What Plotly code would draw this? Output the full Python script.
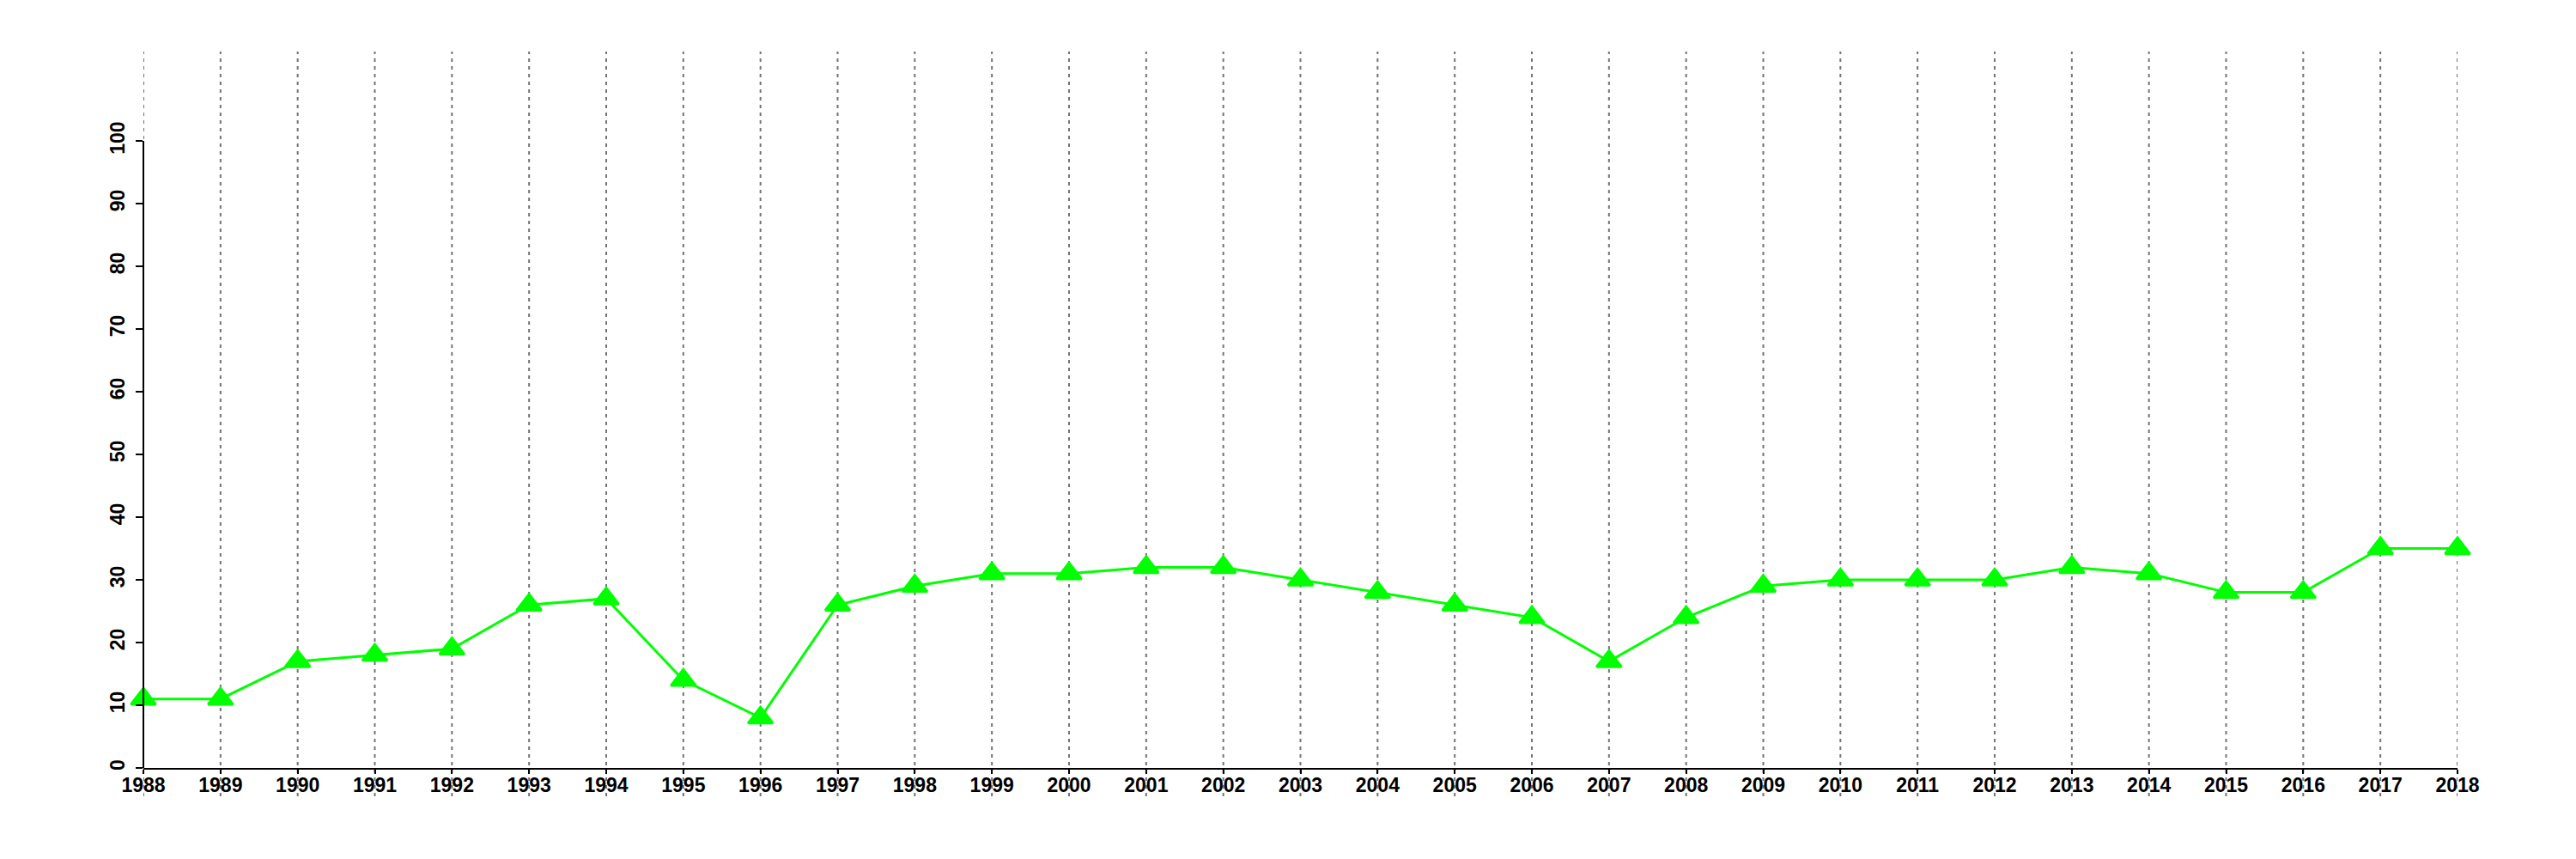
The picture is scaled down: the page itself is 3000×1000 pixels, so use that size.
import plotly.graph_objects as go

years = list(range(1988, 2019))
values = [11, 11, 17, 18, 19, 26, 27, 14, 8, 26, 29, 31, 31, 32, 32, 30, 28, 26, 24, 17,
          24, 29, 30, 30, 30, 32, 31, 28, 28, 35, 35]
y_ticks = [0, 10, 20, 30, 40, 50, 60, 70, 80, 90, 100]

fig = go.Figure()
fig.add_trace(go.Scatter(
    x=years, y=values, mode="lines+markers",
    line=dict(color="#00FF00", width=3),
    marker=dict(symbol="triangle-up", size=25, color="#00FF00",
                line=dict(color="#00FF00", width=3)),
    cliponaxis=False, showlegend=False,
))

shapes = []
# dotted vertical gridlines, running from the top of the plot to below the x labels
for yr in years:
    shapes.append(dict(type="line", xref="x", yref="paper", x0=yr, x1=yr, y0=-0.0396, y1=1,
                       line=dict(color="#737373", width=2, dash="4px,5px"), layer="below"))
# y axis line only spanning 0..100
shapes.append(dict(type="line", xref="paper", yref="y", x0=0, x1=0, y0=y_ticks[0], y1=y_ticks[-1],
                   line=dict(color="black", width=2)))

font = dict(family="Liberation Sans", size=23, color="black", weight="bold")

fig.update_layout(
    width=3000, height=1000,
    margin=dict(l=159, r=146, t=52, b=114),
    plot_bgcolor="white", paper_bgcolor="white",
    shapes=shapes,
    xaxis=dict(
        range=[1988, 2018], tickvals=years, ticktext=[str(y) for y in years],
        showgrid=False,
        showline=True, linecolor="black", linewidth=2,
        ticks="outside", ticklen=5, tickwidth=2, tickcolor="black",
        tickfont=font, zeroline=False, ticklabelstandoff=-7,
    ),
    yaxis=dict(
        range=[0, 114.25], tickvals=y_ticks,
        showgrid=False, showline=False, zeroline=False,
        ticks="outside", ticklen=8, tickwidth=2, tickcolor="black",
        tickangle=-90, tickfont=font, ticklabelstandoff=4,
    ),
)

fig.write_html("out.html")
